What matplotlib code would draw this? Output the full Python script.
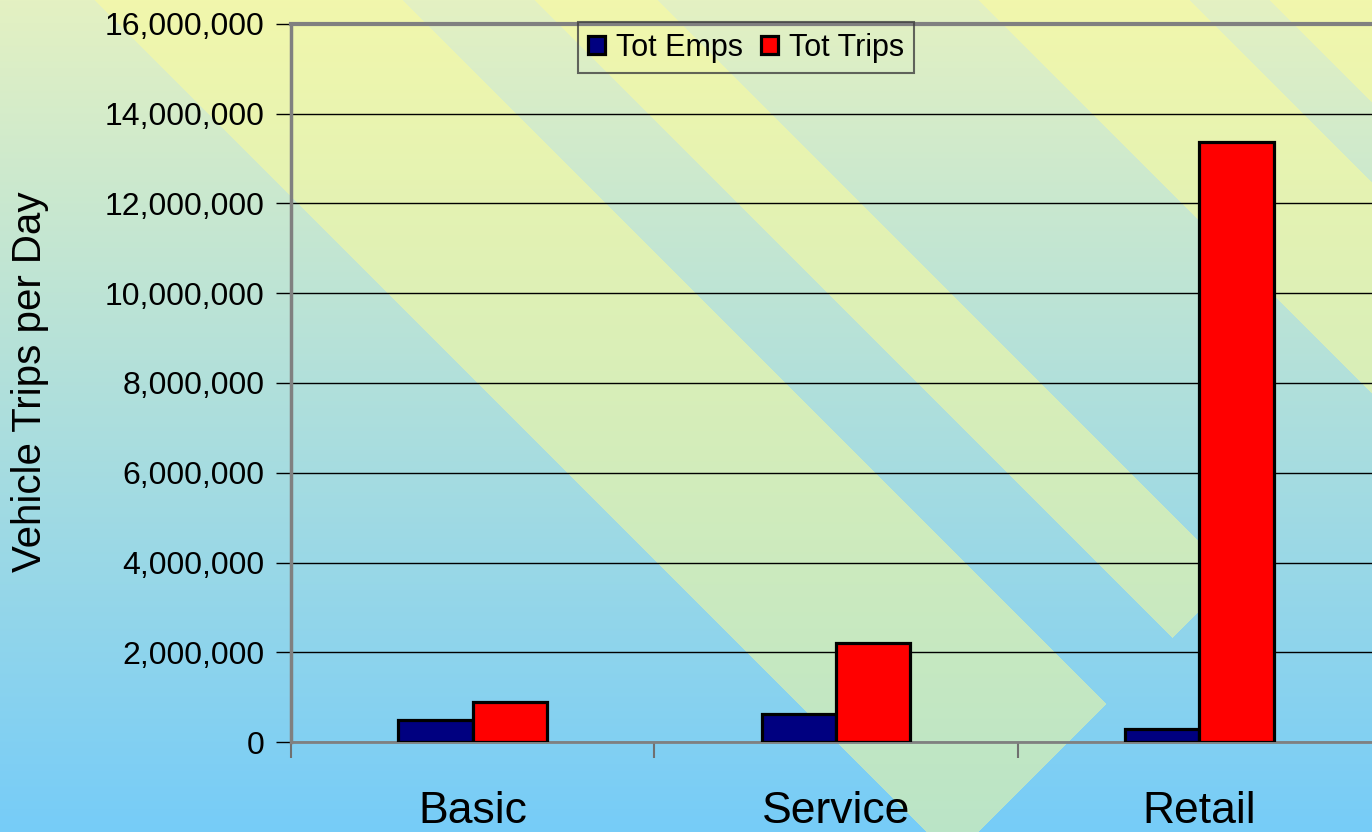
import numpy as np
import matplotlib.pyplot as plt
from matplotlib.ticker import FuncFormatter

plt.rcParams['font.family'] = ['Liberation Sans', 'DejaVu Sans']

categories = ['Basic', 'Service', 'Retail']
tot_emps = [490000, 620000, 280000]
tot_trips = [900000, 2200000, 13370000]
series_names = ['Tot Emps', 'Tot Trips']
y_ticks = np.arange(0, 16000001, 2000000)

W, H = 1372, 832
fig = plt.figure(figsize=(W / 100, H / 100), dpi=100)

# background: vertical gradient with pale yellow diagonal stripes
bg = fig.add_axes([0, 0, 1, 1], zorder=0)
bg.axis('off')
yy, xx = np.mgrid[0:H, 0:W]
t = (yy / (H - 1))[..., None]
top = np.array([228, 241, 194], dtype=float)
bottom = np.array([118, 204, 248], dtype=float)
img = top * (1 - t) + bottom * t
d = xx - yy
s = xx + yy
mask = (s < 1810) & (((d >= 95) & (d < 403)) | ((d >= 535) & (d < 658)) |
                     ((d >= 979) & (d < 1190)) | (d >= 1270))
yellow = np.array([255, 253, 150], dtype=float)
img[mask] = img[mask] * 0.5 + yellow * 0.5
bg.imshow(img / 255, aspect='auto', extent=(0, 1, 0, 1), interpolation='nearest')
bg.set_xlim(0, 1)
bg.set_ylim(0, 1)

ax = fig.add_axes([291 / W, (H - 742) / H, 1090 / W, 718 / H], zorder=1)
ax.patch.set_alpha(0)

x = np.arange(len(categories))
w = 0.205
ax.bar(x - w / 2, tot_emps, w, color='#000080', edgecolor='black', linewidth=2.3,
       label=series_names[0], zorder=3)
ax.bar(x + w / 2, tot_trips, w, color='#ff0000', edgecolor='black', linewidth=2.3,
       label=series_names[1], zorder=3)

ax.set_xlim(-0.5, 2.5)
ax.set_ylim(0, 16000000)
ax.set_yticks(y_ticks)
ax.yaxis.set_major_formatter(FuncFormatter(lambda v, p: f'{v:,.0f}'))
ax.yaxis.grid(True, color='black', linewidth=1)
ax.set_axisbelow(True)

ax.set_xticks(x)
ax.set_xticklabels(categories)
ax.set_xticks([-0.5, 0.5, 1.5, 2.5], minor=True)
ax.tick_params(axis='x', which='major', length=0, labelsize=32, pad=35)
ax.tick_params(axis='x', which='minor', length=11.5, width=1.5, color='#707070', direction='out')
ax.tick_params(axis='y', length=11, width=1, color='black', labelsize=23, pad=8)

for side in ['top', 'left', 'bottom']:
    ax.spines[side].set_color('#808080')
ax.spines['top'].set_linewidth(3)
ax.spines['left'].set_linewidth(2.5)
ax.spines['bottom'].set_linewidth(2)
ax.spines['right'].set_visible(False)

fig.text(30 / W, 1 - 382 / H, 'Vehicle Trips per Day', rotation=90,
         ha='center', va='center', fontsize=29)

leg = ax.legend(loc='upper center', bbox_to_anchor=(746 / W, 1 - 22 / H),
                bbox_transform=fig.transFigure, ncol=2, fontsize=22,
                fancybox=False, edgecolor='#404040', facecolor='none',
                handlelength=0.55, handleheight=0.55, handletextpad=0.35,
                columnspacing=0.6, borderpad=0.35, borderaxespad=0)
leg.get_frame().set_linewidth(1.5)

fig.savefig('out.png', dpi=100)
